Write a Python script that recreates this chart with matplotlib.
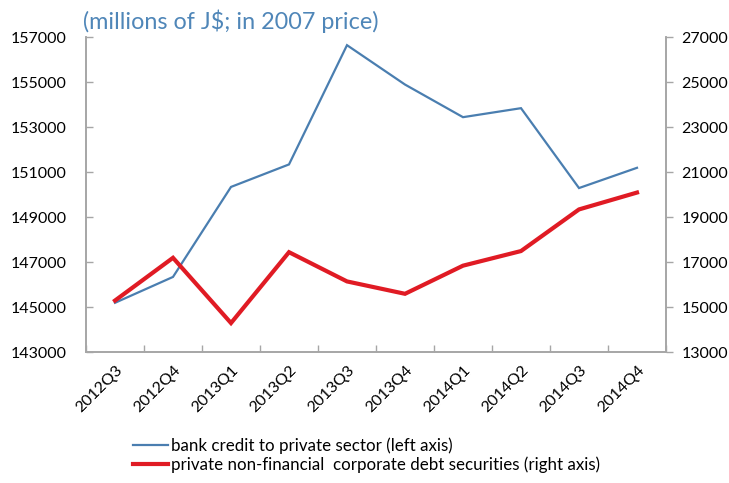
import matplotlib
matplotlib.use('Agg')
import matplotlib.pyplot as plt
from matplotlib.lines import Line2D
import numpy as np

quarters = ['2012Q3', '2012Q4', '2013Q1', '2013Q2', '2013Q3',
            '2013Q4', '2014Q1', '2014Q2', '2014Q3', '2014Q4']

# bank credit to private sector, millions of J$ (left axis)
bank_credit = [145200, 146350, 150350, 151350, 156650,
               154900, 153450, 153850, 150300, 151200]

# private non-financial corporate debt securities (right axis)
corp_debt = [15300, 17200, 14300, 17450, 16150,
             15600, 16850, 17500, 19350, 20100]

left_ticks = [143000, 145000, 147000, 149000, 151000, 153000, 155000, 157000]
right_ticks = [13000, 15000, 17000, 19000, 21000, 23000, 25000, 27000]

BLUE = '#4a7eb0'
RED = '#e01b24'
SPINE = '#a6a6a6'

plt.rcParams['font.family'] = ['Lato', 'DejaVu Sans']

fig = plt.figure(figsize=(7.29, 4.83), dpi=100)
ax = fig.add_axes([86 / 729, 1 - 352.3 / 483, 580 / 729, 315 / 483])
ax2 = ax.twinx()

x = np.arange(len(quarters))
ax.plot(x, bank_credit, color=BLUE, lw=1.6, solid_joinstyle='miter')
ax2.plot(x, corp_debt, color=RED, lw=3.0, solid_joinstyle='miter')

ax.set_xlim(-0.5, len(quarters) - 0.5)
ax.set_ylim(left_ticks[0], left_ticks[-1])
ax2.set_ylim(right_ticks[0], right_ticks[-1])
ax.set_yticks(left_ticks)
ax2.set_yticks(right_ticks)
ax.set_yticklabels([str(v) for v in left_ticks], fontsize=11.5)
ax2.set_yticklabels([str(v) for v in right_ticks], fontsize=11.5)

# category labels at centres, tick marks on the boundaries
ax.set_xticks(x)
ax.set_xticklabels(quarters, rotation=45, ha='right', rotation_mode='anchor',
                   fontsize=11.5)
ax.tick_params(axis='x', length=0, pad=8)
ax.set_xticks(np.arange(-0.5, len(quarters) + 0.5), minor=True)
ax.tick_params(axis='x', which='minor', direction='in', length=5,
               color=SPINE, width=1)

ax.tick_params(axis='y', direction='in', length=5, color=SPINE, width=1, pad=14)
ax2.tick_params(axis='y', direction='out', length=5, color=SPINE, width=1, pad=6)

for a in (ax, ax2):
    a.spines['top'].set_visible(False)
    for s in ('left', 'right', 'bottom'):
        a.spines[s].set_color(SPINE)
        a.spines[s].set_linewidth(1.2)

fig.text(83 / 729, 1 - 21 / 483, '(millions of J$; in 2007 price)',
         color='#4f86b8', fontsize=16.8, ha='left', va='center')

handles = [Line2D([], [], color=BLUE, lw=1.6),
           Line2D([], [], color=RED, lw=3.0)]
labels = ['bank credit to private sector (left axis)',
          'private non-financial  corporate debt securities (right axis)']
fig.legend(handles, labels, loc='upper left',
           bbox_to_anchor=(126 / 729, 1 - 431 / 483), frameon=False,
           fontsize=12.2, handlelength=2.1, handletextpad=0.15,
           labelspacing=0.12, borderaxespad=0)

fig.savefig('out.png', dpi=100)
